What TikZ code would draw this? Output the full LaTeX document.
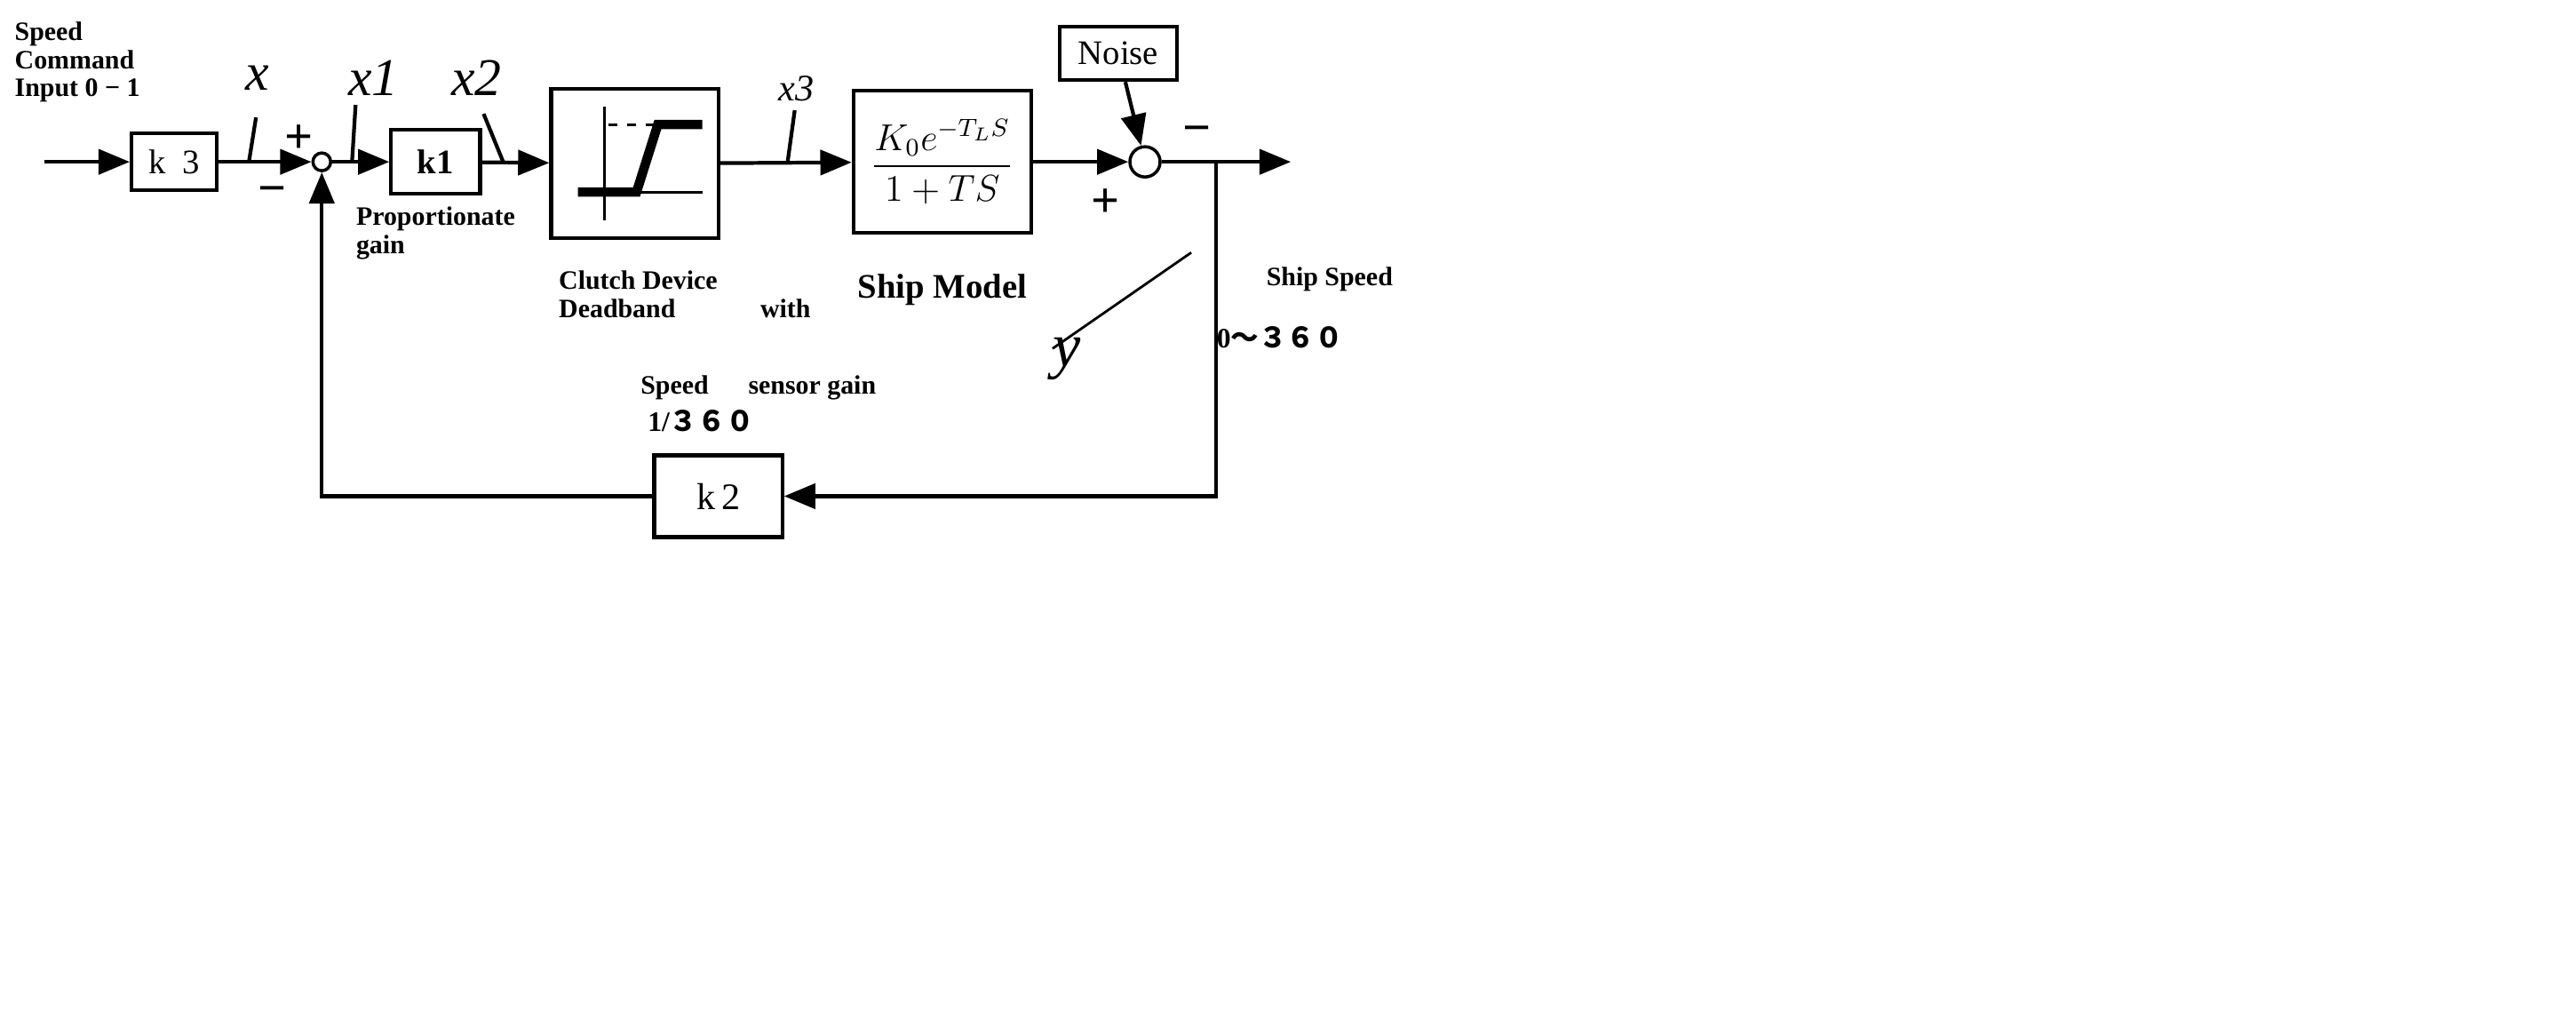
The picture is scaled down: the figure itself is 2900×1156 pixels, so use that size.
\documentclass[tikz,border=0pt]{standalone}
\usepackage{amsmath}
\usepackage{fontspec}
\setmainfont{Liberation Serif}
\newfontfamily\cjk{Noto Sans CJK JP}
\usetikzlibrary{arrows.meta}
\begin{document}
\begin{tikzpicture}[x=0.01cm,y=-0.01cm,
  blk/.style={draw,line width=1.2pt,inner sep=0pt},
  ar/.style={-{Triangle[length=10pt,width=8pt]},line width=1.2pt},
  ln/.style={line width=1.2pt},
  lbl/.style={font=\bfseries\fontsize{8.5}{10}\selectfont,align=left,anchor=north west,inner sep=0pt},
  xl/.style={font=\itshape\fontsize{17}{18}\selectfont,inner sep=0pt},
  sgn/.style={font=\bfseries\fontsize{16}{16}\selectfont,inner sep=0pt}]
\useasboundingbox (0,0) rectangle (2900,1156);
\begin{scope}[x=0.02cm,y=-0.02cm]
\node[lbl] (t1) at (8,12) {Speed\\[-1pt]Command\\[-1pt]Input 0 − 1};
\coordinate (in) at (25,91);
\node[blk,minimum width=0.96cm,minimum height=0.64cm] (k3) at (98,91) {\fontsize{11}{12}\selectfont k\ \ 3};
\node[draw,circle,line width=1pt,minimum size=0.2cm,inner sep=0pt] (s1) at (181,91) {};
\node[blk,minimum width=1.0cm,minimum height=0.72cm] (k1) at (245,91) {\bfseries\fontsize{11}{12}\selectfont k1};
\node[blk,minimum width=1.88cm,minimum height=1.68cm] (db) at (357,92) {};
\node[blk,minimum width=2.0cm,minimum height=1.6cm] (sm) at (530,91) {};
\node[draw,circle,line width=1pt,minimum size=0.34cm,inner sep=0pt] (s2) at (644,91) {};
\node[blk,minimum width=1.32cm,minimum height=0.6cm] (nz) at (629,30) {\fontsize{11}{12}\selectfont Noise};
\coordinate (out) at (726,91);
\coordinate (br) at (684,91);
\coordinate (bb) at (684,279);
\node[blk,minimum width=1.44cm,minimum height=0.92cm] (k2) at (404,279) {\fontsize{12}{13}\selectfont k\,2};
\coordinate (lb) at (181,279);
\draw[ar] (in) -- (k3);
\draw[ar] (k3) -- (s1);
\draw[ar] (s1) -- (k1);
\draw[ar] (k1) -- (db);
\draw[ar] (db) -- (sm);
\draw[ar] (sm) -- (s2);
\draw[ar] (nz) -- (s2);
\draw[ar] (s2) -- (out);
\draw[ar] (br) -- (bb) -- (k2);
\draw[ar] (k2) -- (lb) -- (s1);
\draw[ln] (140,91) -- (144,66); \node[xl] (lx) at (145,44) {x};
\draw[ln] (198,91) -- (200,59); \node[xl] (lx1) at (210,44) {x1};
\draw[ln] (283,91) -- (272,64); \node[xl] (lx2) at (268,44) {x2};
\draw[ln] (443,91) -- (447,62); \node[font=\itshape\fontsize{12}{12}\selectfont] (lx3) at (448,50) {x3};
\node[sgn] (p1) at (168,78) {+};
\node[sgn] (m1) at (153,110) {−};
\node[sgn] (p2) at (622,114) {+};
\node[sgn] (m2) at (673,76) {−};
\draw[line width=0.8pt] (340,60) -- (340,124);
\draw[line width=0.8pt] (325,108) -- (395,108);
\draw[line width=3pt] (325,108) -- (358,108) -- (370,70) -- (395,70);
\draw[line width=0.8pt,dashed] (342,70) -- (370,70);
\node (tf) at (530,91) {\fontsize{12}{14}\selectfont $\dfrac{K_0e^{-T_LS}}{1+TS}$};
\node[lbl] (pg) at (200,116) {Proportionate\\[-1pt]gain};
\node[lbl] (cd) at (314,152) {Clutch Device\\[-1pt]Deadband\hspace{3.2em}with};
\node[font=\bfseries\fontsize{11}{12}\selectfont] (shm) at (530,163) {Ship Model};
\node[lbl] (ss) at (712,150) {Ship Speed};
\node[lbl,font=\bfseries\fontsize{9}{10}\selectfont] (rg) at (684,183) {0{\cjk 〜３６０}};
\draw[line width=0.8pt] (670,142) -- (592,196);
\node[font=\itshape\fontsize{20}{20}\selectfont] (ly) at (600,202) {y};
\node[lbl] (sg) at (360,211) {Speed\hspace{1.5em}sensor gain};
\node[lbl,font=\bfseries\fontsize{9}{10}\selectfont] (sv) at (364,230) {1/{\cjk ３６０}};
\end{scope}
\end{tikzpicture}
\end{document}
